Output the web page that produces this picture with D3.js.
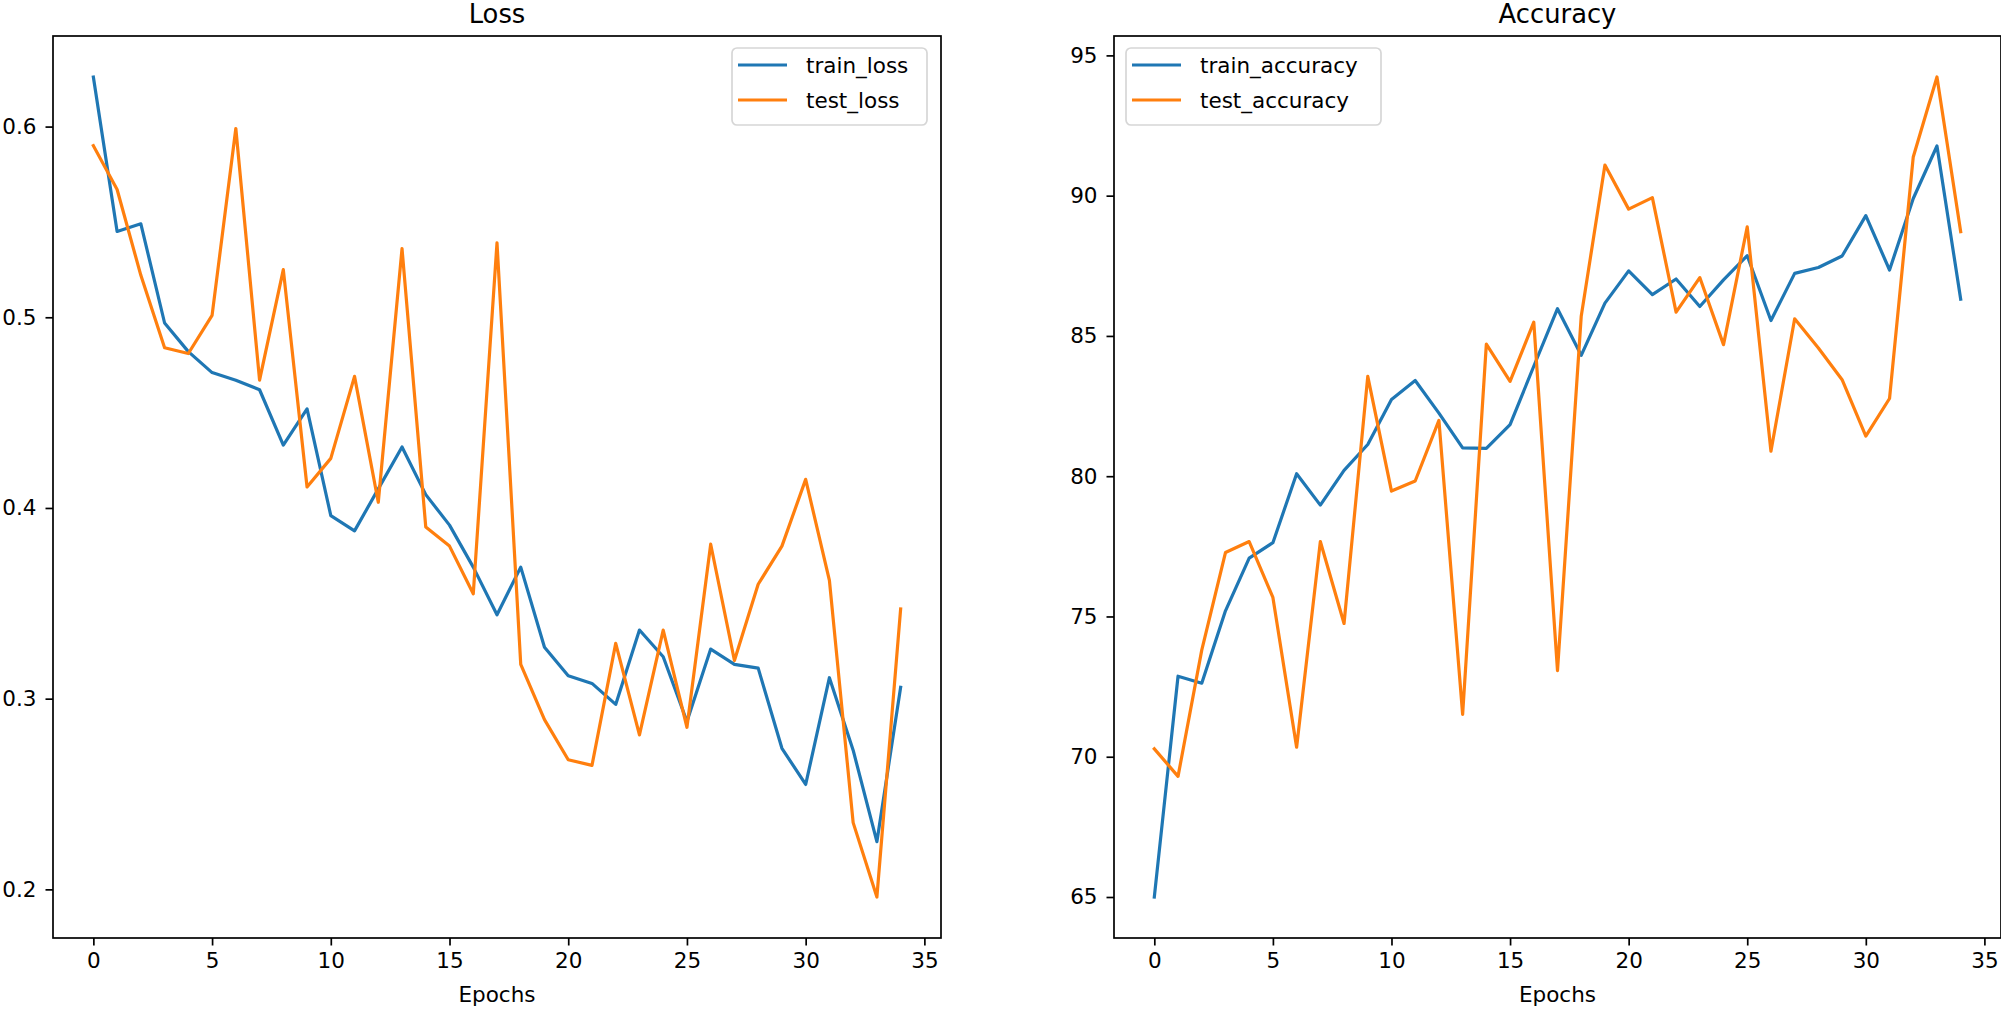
<!DOCTYPE html>
<html>
<head>
<meta charset="utf-8">
<script src="https://cdn.jsdelivr.net/npm/d3@7"></script>
<style>
  html, body { margin: 0; padding: 0; background: #fff; }
  svg { display: block; font-family: "DejaVu Sans", sans-serif; }
</style>
</head>
<body>
<svg id="chart" width="2001" height="1012"></svg>
<script>
// epochs 0..34
var epochs = d3.range(0, 35);

var trainLoss = [0.626, 0.545, 0.549, 0.497, 0.482, 0.471, 0.467, 0.462, 0.433, 0.452,
  0.396, 0.388, 0.410, 0.432, 0.407, 0.391, 0.369, 0.344, 0.369, 0.327,
  0.312, 0.308, 0.297, 0.336, 0.322, 0.288, 0.326, 0.318, 0.316, 0.274,
  0.255, 0.311, 0.273, 0.225, 0.306];
var testLoss = [0.590, 0.567, 0.522, 0.484, 0.481, 0.501, 0.599, 0.467, 0.525, 0.411,
  0.426, 0.469, 0.403, 0.536, 0.390, 0.380, 0.355, 0.539, 0.318, 0.289,
  0.268, 0.265, 0.329, 0.281, 0.336, 0.285, 0.381, 0.320, 0.360, 0.380,
  0.415, 0.362, 0.235, 0.196, 0.347];

var trainAcc = [65.0, 72.87, 72.62, 75.20, 77.08, 77.63, 80.09, 78.97, 80.21, 81.13,
  82.73, 83.41, 82.25, 81.01, 80.99, 81.84, 83.92, 85.97, 84.31, 86.17,
  87.32, 86.47, 87.03, 86.05, 87.00, 87.86, 85.55, 87.23, 87.44, 87.85,
  89.29, 87.35, 89.90, 91.77, 86.31];
var testAcc = [70.28, 69.30, 73.80, 77.28, 77.67, 75.68, 70.34, 77.67, 74.75, 83.56,
  79.47, 79.83, 81.99, 71.51, 84.71, 83.38, 85.49, 73.07, 85.70, 91.09,
  89.52, 89.93, 85.85, 87.08, 84.69, 88.89, 80.89, 85.61, 84.57, 83.44,
  81.43, 82.77, 91.38, 94.23, 88.72];

var xTicks = [0, 5, 10, 15, 20, 25, 30, 35];
var lossTicks = [0.2, 0.3, 0.4, 0.5, 0.6];
var accTicks = [65, 70, 75, 80, 85, 90, 95];

var colors = ["#1f77b4", "#ff7f0e"];

var svg = d3.select("#chart");
var plotTop = 36, plotBottom = 938;
var fs = 21.5;

function padDomain(arrays) {
  var all = [].concat.apply([], arrays);
  var lo = d3.min(all), hi = d3.max(all), m = (hi - lo) * 0.05;
  return [lo - m, hi + m];
}

function drawPanel(opts) {
  var x = d3.scaleLinear().domain([-1.7, 35.7]).range([opts.left, opts.right]);
  var y = d3.scaleLinear().domain(padDomain(opts.series)).range([plotBottom, plotTop]);
  var g = svg.append("g");

  var line = d3.line()
    .x(function(d, i) { return x(epochs[i]); })
    .y(function(d) { return y(d); });

  opts.series.forEach(function(s, k) {
    g.append("path")
      .datum(s)
      .attr("d", line)
      .attr("fill", "none")
      .attr("stroke", colors[k])
      .attr("stroke-width", 3.2)
      .attr("stroke-linejoin", "round")
      .attr("stroke-linecap", "square");
  });

  // x axis
  var xa = g.append("g")
    .attr("transform", "translate(0," + plotBottom + ")")
    .call(d3.axisBottom(x).tickValues(xTicks).tickSize(7.5).tickPadding(7).tickFormat(d3.format("d")));
  xa.select(".domain").remove();
  // y axis
  var ya = g.append("g")
    .attr("transform", "translate(" + opts.left + ",0)")
    .call(d3.axisLeft(y).tickValues(opts.ticks).tickSize(7.5).tickPadding(9).tickFormat(opts.fmt));
  ya.select(".domain").remove();

  g.selectAll(".tick line").attr("stroke", "#000").attr("stroke-width", 1.7);
  g.selectAll(".tick text").attr("font-size", fs).attr("fill", "#000")
    .attr("font-family", "DejaVu Sans");

  // spines
  g.append("rect")
    .attr("x", opts.left).attr("y", plotTop)
    .attr("width", opts.right - opts.left).attr("height", plotBottom - plotTop)
    .attr("fill", "none").attr("stroke", "#000").attr("stroke-width", 1.7);

  // title and x label
  g.append("text")
    .attr("x", (opts.left + opts.right) / 2).attr("y", 23)
    .attr("text-anchor", "middle").attr("font-size", fs * 1.2)
    .text(opts.title);
  g.append("text")
    .attr("x", (opts.left + opts.right) / 2).attr("y", 1002)
    .attr("text-anchor", "middle").attr("font-size", fs)
    .text("Epochs");

  // legend
  var lg = g.append("g").attr("transform", "translate(" + opts.legX + ",48)");
  lg.append("rect")
    .attr("width", opts.legW).attr("height", 77)
    .attr("rx", 5).attr("ry", 5)
    .attr("fill", "#fff").attr("fill-opacity", 0.8)
    .attr("stroke", "#d6d6d6").attr("stroke-width", 1.7);
  opts.names.forEach(function(name, k) {
    var yy = 17 + k * 35;
    lg.append("line")
      .attr("x1", 6).attr("x2", 55).attr("y1", yy).attr("y2", yy)
      .attr("stroke", colors[k]).attr("stroke-width", 3.2);
    lg.append("text")
      .attr("x", 74).attr("y", yy).attr("dy", "0.35em")
      .attr("font-size", fs).attr("fill", "#000")
      .text(name);
  });
}

drawPanel({
  left: 53, right: 941, title: "Loss",
  series: [trainLoss, testLoss], ticks: lossTicks, fmt: d3.format(".1f"),
  names: ["train_loss", "test_loss"], legX: 732, legW: 195
});

drawPanel({
  left: 1114, right: 2001, title: "Accuracy",
  series: [trainAcc, testAcc], ticks: accTicks, fmt: d3.format("d"),
  names: ["train_accuracy", "test_accuracy"], legX: 1126, legW: 255
});
</script>
</body>
</html>
